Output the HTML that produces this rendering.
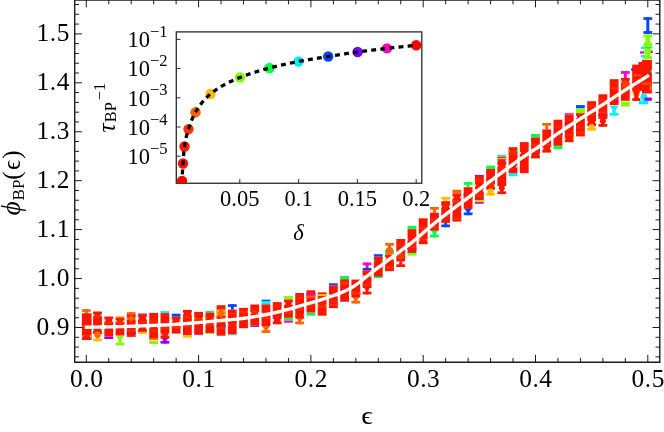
<!DOCTYPE html>
<html><head><meta charset="utf-8"><title>chart</title>
<style>html,body{margin:0;padding:0;background:#fff;}body{width:664px;height:432px;overflow:hidden;font-family:"Liberation Serif",serif;}</style></head>
<body>
<svg width="664" height="432" viewBox="0 0 664 432" style="display:block;will-change:transform">
<rect x="0" y="0" width="664" height="432" fill="#ffffff"/>
<g><rect x="81.90" y="309.20" width="8.80" height="2.7" fill="#ff6400"/><rect x="84.80" y="309.20" width="3.00" height="6.80" fill="#ff6400"/><rect x="93.13" y="338.60" width="8.80" height="2.7" fill="#ffbe00"/><rect x="96.03" y="334.00" width="3.00" height="7.30" fill="#ffbe00"/><rect x="93.13" y="314.50" width="8.80" height="1.50" fill="#00f0ff"/><rect x="104.36" y="336.60" width="8.80" height="2.40" fill="#8c00ff"/><rect x="115.59" y="316.00" width="8.80" height="1.80" fill="#ffbe00"/><rect x="115.59" y="342.70" width="8.80" height="2.7" fill="#82ff00"/><rect x="118.49" y="335.50" width="3.00" height="9.90" fill="#82ff00"/><path d="M115.79 335.50H124.19L119.99 341.50Z" fill="#82ff00"/><rect x="126.82" y="312.20" width="8.80" height="2.7" fill="#ff6400"/><rect x="129.72" y="312.20" width="3.00" height="5.80" fill="#ff6400"/><rect x="138.05" y="313.50" width="8.80" height="0.90" fill="#8c00ff"/><rect x="138.05" y="331.90" width="8.80" height="2.00" fill="#ffbe00"/><rect x="149.28" y="336.50" width="8.80" height="3.50" fill="#ff6400"/><rect x="149.28" y="340.70" width="8.80" height="3.30" fill="#82ff00"/><rect x="160.51" y="311.10" width="8.80" height="2.00" fill="#00f0ff"/><rect x="160.51" y="340.90" width="8.80" height="2.7" fill="#8c00ff"/><rect x="163.41" y="338.60" width="3.00" height="5.00" fill="#8c00ff"/><path d="M160.71 337.50H169.11L164.91 342.00Z" fill="#8c00ff"/><rect x="171.74" y="313.70" width="8.80" height="3.00" fill="#0046ff"/><rect x="182.97" y="334.60" width="8.80" height="3.10" fill="#ffbe00"/><rect x="194.20" y="334.30" width="8.80" height="0.80" fill="#8c00ff"/><rect x="205.43" y="311.00" width="8.80" height="1.60" fill="#00ff46"/><rect x="205.43" y="332.60" width="8.80" height="1.40" fill="#82ff00"/><rect x="227.89" y="304.20" width="8.80" height="2.7" fill="#0046ff"/><rect x="230.79" y="304.20" width="3.00" height="5.40" fill="#0046ff"/><rect x="227.89" y="334.30" width="8.80" height="1.00" fill="#00f0ff"/><rect x="250.35" y="325.80" width="8.80" height="1.10" fill="#8c00ff"/><rect x="261.58" y="299.70" width="8.80" height="1.50" fill="#0046ff"/><rect x="261.58" y="301.10" width="8.80" height="3.30" fill="#00f0ff"/><rect x="261.58" y="330.20" width="8.80" height="2.7" fill="#ff6400"/><rect x="264.48" y="326.00" width="3.00" height="6.90" fill="#ff6400"/><path d="M261.78 326.00H270.18L265.98 331.00Z" fill="#ff6400"/><rect x="284.04" y="296.00" width="8.80" height="3.50" fill="#82ff00"/><rect x="284.04" y="317.80" width="8.80" height="2.80" fill="#00ff46"/><rect x="284.04" y="320.60" width="8.80" height="2.10" fill="#ff00c8"/><rect x="295.27" y="321.60" width="8.80" height="2.7" fill="#ff6400"/><rect x="298.17" y="318.60" width="3.00" height="5.70" fill="#ff6400"/><path d="M295.47 317.50H303.87L299.67 322.50Z" fill="#ff6400"/><rect x="306.50" y="312.50" width="8.80" height="3.20" fill="#00ff46"/><rect x="328.96" y="283.30" width="8.80" height="2.10" fill="#0046ff"/><rect x="340.19" y="276.00" width="8.80" height="3.20" fill="#00ff46"/><rect x="340.19" y="300.30" width="8.80" height="1.20" fill="#8c00ff"/><rect x="351.42" y="300.80" width="8.80" height="2.7" fill="#ff6400"/><rect x="354.32" y="297.30" width="3.00" height="6.20" fill="#ff6400"/><path d="M351.62 296.50H360.02L355.82 301.50Z" fill="#ff6400"/><rect x="362.65" y="262.50" width="8.80" height="2.7" fill="#ff00c8"/><rect x="365.55" y="262.50" width="3.00" height="6.00" fill="#ff00c8"/><rect x="362.65" y="268.00" width="8.80" height="2.20" fill="#0046ff"/><rect x="373.88" y="254.20" width="8.80" height="2.50" fill="#0046ff"/><rect x="373.88" y="275.80" width="8.80" height="2.20" fill="#00ff46"/><rect x="385.11" y="250.00" width="8.80" height="4.60" fill="#00ff46"/><rect x="385.11" y="243.00" width="8.80" height="2.7" fill="#ff6400"/><rect x="388.01" y="243.00" width="3.00" height="8.00" fill="#ff6400"/><rect x="407.57" y="225.80" width="8.80" height="3.40" fill="#00ff46"/><rect x="407.57" y="252.50" width="8.80" height="3.10" fill="#82ff00"/><rect x="407.57" y="252.00" width="8.80" height="0.80" fill="#0046ff"/><rect x="418.80" y="218.10" width="8.80" height="1.70" fill="#ff6400"/><rect x="430.03" y="207.00" width="8.80" height="2.7" fill="#ff6400"/><rect x="432.93" y="207.00" width="3.00" height="5.70" fill="#ff6400"/><rect x="430.03" y="234.70" width="8.80" height="2.7" fill="#00ff46"/><rect x="432.93" y="230.50" width="3.00" height="6.90" fill="#00ff46"/><path d="M430.23 230.00H438.63L434.43 235.00Z" fill="#00ff46"/><rect x="441.26" y="196.90" width="8.80" height="2.7" fill="#ffbe00"/><rect x="444.16" y="196.90" width="3.00" height="4.30" fill="#ffbe00"/><rect x="441.26" y="224.50" width="8.80" height="2.7" fill="#0046ff"/><rect x="444.16" y="222.90" width="3.00" height="4.30" fill="#0046ff"/><rect x="452.49" y="189.70" width="8.80" height="3.90" fill="#ff6400"/><rect x="463.72" y="182.10" width="8.80" height="2.7" fill="#00ff46"/><rect x="466.62" y="182.10" width="3.00" height="5.10" fill="#00ff46"/><rect x="463.72" y="212.50" width="8.80" height="2.7" fill="#0046ff"/><rect x="466.62" y="208.80" width="3.00" height="6.40" fill="#0046ff"/><path d="M463.92 208.50H472.32L468.12 213.00Z" fill="#0046ff"/><rect x="474.95" y="174.90" width="8.80" height="1.40" fill="#8c00ff"/><rect x="474.95" y="200.00" width="8.80" height="2.00" fill="#82ff00"/><rect x="474.95" y="202.00" width="8.80" height="1.80" fill="#ff00c8"/><rect x="486.18" y="165.60" width="8.80" height="3.30" fill="#00ff46"/><rect x="486.18" y="192.90" width="8.80" height="2.7" fill="#ffbe00"/><rect x="489.08" y="189.70" width="3.00" height="5.90" fill="#ffbe00"/><rect x="497.41" y="154.90" width="8.80" height="1.70" fill="#00f0ff"/><rect x="508.64" y="173.20" width="8.80" height="3.10" fill="#00f0ff"/><rect x="531.10" y="134.00" width="8.80" height="3.50" fill="#00ff46"/><rect x="542.33" y="123.00" width="8.80" height="2.7" fill="#ff6400"/><rect x="545.23" y="123.00" width="3.00" height="6.40" fill="#ff6400"/><rect x="553.56" y="145.20" width="8.80" height="3.90" fill="#00ff46"/><rect x="564.79" y="113.20" width="8.80" height="1.40" fill="#ff00c8"/><rect x="576.02" y="105.10" width="8.80" height="3.10" fill="#0046ff"/><rect x="576.02" y="108.10" width="8.80" height="5.10" fill="#82ff00"/><rect x="587.25" y="127.90" width="8.80" height="2.7" fill="#ffbe00"/><rect x="590.15" y="125.50" width="3.00" height="5.10" fill="#ffbe00"/><rect x="609.71" y="112.90" width="8.80" height="2.7" fill="#00f0ff"/><rect x="612.61" y="105.40" width="3.00" height="10.20" fill="#00f0ff"/><path d="M609.91 106.00H618.31L614.11 112.00Z" fill="#00f0ff"/><rect x="620.94" y="71.10" width="8.80" height="2.7" fill="#ff00c8"/><rect x="623.84" y="71.10" width="3.00" height="6.90" fill="#ff00c8"/><rect x="620.94" y="101.60" width="8.80" height="5.00" fill="#82ff00"/></g>
<g><rect x="82.4" y="313.50" width="9.2" height="26.50" fill="#ff1400"/><rect x="81.90" y="313.50" width="8.80" height="26.50" fill="#ff1400"/><rect x="81.90" y="324.77" width="8.80" height="2.34" fill="#ff3c00" opacity="0.55"/><rect x="81.90" y="334.45" width="8.80" height="2.20" fill="#ff3c00" opacity="0.55"/><rect x="93.13" y="311.50" width="8.80" height="22.50" fill="#ff1400"/><rect x="93.13" y="315.00" width="8.80" height="2.71" fill="#ff3c00" opacity="0.55"/><rect x="93.13" y="324.94" width="8.80" height="1.56" fill="#ff3c00" opacity="0.55"/><rect x="104.36" y="316.50" width="8.80" height="20.10" fill="#ff1400"/><rect x="104.36" y="326.83" width="8.80" height="1.79" fill="#ff3c00" opacity="0.55"/><rect x="104.36" y="321.79" width="8.80" height="1.94" fill="#ff3c00" opacity="0.55"/><rect x="115.59" y="317.60" width="8.80" height="17.90" fill="#ff1400"/><rect x="115.59" y="322.33" width="8.80" height="1.93" fill="#ff3c00" opacity="0.55"/><rect x="115.59" y="320.44" width="8.80" height="2.65" fill="#ff3c00" opacity="0.55"/><rect x="126.82" y="314.60" width="8.80" height="22.30" fill="#ff1400"/><rect x="126.82" y="329.29" width="8.80" height="1.90" fill="#ff3c00" opacity="0.55"/><rect x="126.82" y="318.02" width="8.80" height="2.00" fill="#ff3c00" opacity="0.55"/><rect x="138.05" y="314.20" width="8.80" height="17.70" fill="#ff1400"/><rect x="138.05" y="323.73" width="8.80" height="1.67" fill="#ff3c00" opacity="0.55"/><rect x="138.05" y="321.12" width="8.80" height="1.82" fill="#ff3c00" opacity="0.55"/><rect x="149.28" y="312.90" width="8.80" height="25.10" fill="#ff1400"/><rect x="149.28" y="329.66" width="8.80" height="1.99" fill="#ff3c00" opacity="0.55"/><rect x="149.28" y="320.56" width="8.80" height="1.61" fill="#ff3c00" opacity="0.55"/><rect x="160.51" y="313.10" width="8.80" height="25.50" fill="#ff1400"/><rect x="160.51" y="333.80" width="8.80" height="2.23" fill="#ff3c00" opacity="0.55"/><rect x="160.51" y="326.30" width="8.80" height="2.80" fill="#ff3c00" opacity="0.55"/><rect x="171.74" y="316.70" width="8.80" height="16.90" fill="#ff1400"/><rect x="171.74" y="325.56" width="8.80" height="2.33" fill="#ff3c00" opacity="0.55"/><rect x="171.74" y="326.19" width="8.80" height="2.08" fill="#ff3c00" opacity="0.55"/><rect x="182.97" y="309.90" width="8.80" height="25.10" fill="#ff1400"/><rect x="182.97" y="325.66" width="8.80" height="1.60" fill="#ff3c00" opacity="0.55"/><rect x="182.97" y="316.26" width="8.80" height="2.34" fill="#ff3c00" opacity="0.55"/><rect x="194.20" y="311.90" width="8.80" height="22.40" fill="#ff1400"/><rect x="194.20" y="317.98" width="8.80" height="1.57" fill="#ff3c00" opacity="0.55"/><rect x="194.20" y="318.52" width="8.80" height="2.30" fill="#ff3c00" opacity="0.55"/><rect x="205.43" y="312.60" width="8.80" height="20.40" fill="#ff1400"/><rect x="205.43" y="323.09" width="8.80" height="2.89" fill="#ff3c00" opacity="0.55"/><rect x="205.43" y="321.44" width="8.80" height="2.04" fill="#ff3c00" opacity="0.55"/><rect x="216.66" y="305.20" width="8.80" height="30.50" fill="#ff1400"/><rect x="216.66" y="326.64" width="8.80" height="2.87" fill="#ff3c00" opacity="0.55"/><rect x="216.66" y="315.82" width="8.80" height="2.53" fill="#ff3c00" opacity="0.55"/><rect x="227.89" y="309.60" width="8.80" height="24.70" fill="#ff1400"/><rect x="227.89" y="318.69" width="8.80" height="1.52" fill="#ff3c00" opacity="0.55"/><rect x="227.89" y="312.95" width="8.80" height="1.64" fill="#ff3c00" opacity="0.55"/><rect x="239.12" y="307.90" width="8.80" height="20.30" fill="#ff1400"/><rect x="239.12" y="316.20" width="8.80" height="2.76" fill="#ff3c00" opacity="0.55"/><rect x="239.12" y="311.10" width="8.80" height="2.63" fill="#ff3c00" opacity="0.55"/><rect x="250.35" y="304.50" width="8.80" height="21.30" fill="#ff1400"/><rect x="250.35" y="310.41" width="8.80" height="1.52" fill="#ff3c00" opacity="0.55"/><rect x="250.35" y="311.11" width="8.80" height="2.52" fill="#ff3c00" opacity="0.55"/><rect x="261.58" y="304.40" width="8.80" height="21.60" fill="#ff1400"/><rect x="261.58" y="312.71" width="8.80" height="1.88" fill="#ff3c00" opacity="0.55"/><rect x="261.58" y="316.29" width="8.80" height="2.71" fill="#ff3c00" opacity="0.55"/><rect x="272.81" y="302.10" width="8.80" height="22.20" fill="#ff1400"/><rect x="272.81" y="309.78" width="8.80" height="2.84" fill="#ff3c00" opacity="0.55"/><rect x="272.81" y="304.76" width="8.80" height="1.60" fill="#ff3c00" opacity="0.55"/><rect x="284.04" y="299.50" width="8.80" height="18.30" fill="#ff1400"/><rect x="284.04" y="312.24" width="8.80" height="1.56" fill="#ff3c00" opacity="0.55"/><rect x="284.04" y="310.22" width="8.80" height="2.36" fill="#ff3c00" opacity="0.55"/><rect x="295.27" y="293.00" width="8.80" height="25.60" fill="#ff1400"/><rect x="295.27" y="297.14" width="8.80" height="2.30" fill="#ff3c00" opacity="0.55"/><rect x="295.27" y="307.54" width="8.80" height="2.05" fill="#ff3c00" opacity="0.55"/><rect x="306.50" y="290.30" width="8.80" height="22.20" fill="#ff1400"/><rect x="306.50" y="303.87" width="8.80" height="1.77" fill="#ff3c00" opacity="0.55"/><rect x="306.50" y="296.71" width="8.80" height="2.02" fill="#ff3c00" opacity="0.55"/><rect x="317.73" y="292.40" width="8.80" height="23.30" fill="#ff1400"/><rect x="317.73" y="296.65" width="8.80" height="2.18" fill="#ff3c00" opacity="0.55"/><rect x="317.73" y="305.22" width="8.80" height="2.86" fill="#ff3c00" opacity="0.55"/><rect x="328.96" y="285.40" width="8.80" height="22.70" fill="#ff1400"/><rect x="328.96" y="303.72" width="8.80" height="2.31" fill="#ff3c00" opacity="0.55"/><rect x="328.96" y="300.61" width="8.80" height="1.98" fill="#ff3c00" opacity="0.55"/><rect x="340.19" y="279.20" width="8.80" height="22.30" fill="#ff1400"/><rect x="340.19" y="281.66" width="8.80" height="2.71" fill="#ff3c00" opacity="0.55"/><rect x="340.19" y="282.24" width="8.80" height="2.70" fill="#ff3c00" opacity="0.55"/><rect x="351.42" y="279.60" width="8.80" height="17.70" fill="#ff1400"/><rect x="351.42" y="291.43" width="8.80" height="2.53" fill="#ff3c00" opacity="0.55"/><rect x="351.42" y="292.67" width="8.80" height="2.24" fill="#ff3c00" opacity="0.55"/><rect x="362.65" y="270.20" width="8.80" height="17.80" fill="#ff1400"/><rect x="362.65" y="275.23" width="8.80" height="2.51" fill="#ff3c00" opacity="0.55"/><rect x="362.65" y="283.47" width="8.80" height="2.81" fill="#ff3c00" opacity="0.55"/><rect x="373.88" y="256.70" width="8.80" height="19.80" fill="#ff1400"/><rect x="373.88" y="266.10" width="8.80" height="2.25" fill="#ff3c00" opacity="0.55"/><rect x="373.88" y="267.05" width="8.80" height="1.54" fill="#ff3c00" opacity="0.55"/><rect x="385.11" y="254.60" width="8.80" height="16.60" fill="#ff1400"/><rect x="385.11" y="266.47" width="8.80" height="2.19" fill="#ff3c00" opacity="0.55"/><rect x="385.11" y="266.36" width="8.80" height="2.70" fill="#ff3c00" opacity="0.55"/><rect x="396.34" y="239.00" width="8.80" height="22.50" fill="#ff1400"/><rect x="396.34" y="253.86" width="8.80" height="1.53" fill="#ff3c00" opacity="0.55"/><rect x="396.34" y="244.20" width="8.80" height="1.84" fill="#ff3c00" opacity="0.55"/><rect x="407.57" y="229.20" width="8.80" height="23.30" fill="#ff1400"/><rect x="407.57" y="241.85" width="8.80" height="2.31" fill="#ff3c00" opacity="0.55"/><rect x="407.57" y="246.14" width="8.80" height="2.30" fill="#ff3c00" opacity="0.55"/><rect x="418.80" y="218.80" width="8.80" height="25.40" fill="#ff1400"/><rect x="418.80" y="238.31" width="8.80" height="1.97" fill="#ff3c00" opacity="0.55"/><rect x="418.80" y="226.91" width="8.80" height="2.88" fill="#ff3c00" opacity="0.55"/><rect x="430.03" y="212.70" width="8.80" height="17.80" fill="#ff1400"/><rect x="430.03" y="219.28" width="8.80" height="2.15" fill="#ff3c00" opacity="0.55"/><rect x="430.03" y="225.81" width="8.80" height="2.31" fill="#ff3c00" opacity="0.55"/><rect x="441.26" y="201.20" width="8.80" height="21.70" fill="#ff1400"/><rect x="441.26" y="205.01" width="8.80" height="2.26" fill="#ff3c00" opacity="0.55"/><rect x="441.26" y="215.10" width="8.80" height="2.25" fill="#ff3c00" opacity="0.55"/><rect x="452.49" y="193.60" width="8.80" height="28.00" fill="#ff1400"/><rect x="452.49" y="200.09" width="8.80" height="2.76" fill="#ff3c00" opacity="0.55"/><rect x="452.49" y="217.39" width="8.80" height="2.89" fill="#ff3c00" opacity="0.55"/><rect x="463.72" y="187.20" width="8.80" height="21.60" fill="#ff1400"/><rect x="463.72" y="196.48" width="8.80" height="2.27" fill="#ff3c00" opacity="0.55"/><rect x="463.72" y="195.91" width="8.80" height="2.40" fill="#ff3c00" opacity="0.55"/><rect x="474.95" y="175.70" width="8.80" height="24.30" fill="#ff1400"/><rect x="474.95" y="194.57" width="8.80" height="2.41" fill="#ff3c00" opacity="0.55"/><rect x="474.95" y="179.43" width="8.80" height="2.69" fill="#ff3c00" opacity="0.55"/><rect x="486.18" y="168.90" width="8.80" height="20.80" fill="#ff1400"/><rect x="486.18" y="182.96" width="8.80" height="2.11" fill="#ff3c00" opacity="0.55"/><rect x="486.18" y="184.17" width="8.80" height="2.82" fill="#ff3c00" opacity="0.55"/><rect x="497.41" y="156.60" width="8.80" height="29.40" fill="#ff1400"/><rect x="497.41" y="166.50" width="8.80" height="2.49" fill="#ff3c00" opacity="0.55"/><rect x="497.41" y="171.93" width="8.80" height="2.30" fill="#ff3c00" opacity="0.55"/><rect x="508.64" y="147.20" width="8.80" height="26.00" fill="#ff1400"/><rect x="508.64" y="153.11" width="8.80" height="2.06" fill="#ff3c00" opacity="0.55"/><rect x="508.64" y="151.17" width="8.80" height="1.88" fill="#ff3c00" opacity="0.55"/><rect x="519.87" y="142.10" width="8.80" height="31.10" fill="#ff1400"/><rect x="519.87" y="155.94" width="8.80" height="1.75" fill="#ff3c00" opacity="0.55"/><rect x="519.87" y="156.54" width="8.80" height="2.42" fill="#ff3c00" opacity="0.55"/><rect x="531.10" y="137.50" width="8.80" height="20.90" fill="#ff1400"/><rect x="531.10" y="143.76" width="8.80" height="2.48" fill="#ff3c00" opacity="0.55"/><rect x="531.10" y="147.85" width="8.80" height="1.93" fill="#ff3c00" opacity="0.55"/><rect x="542.33" y="129.40" width="8.80" height="23.20" fill="#ff1400"/><rect x="542.33" y="143.77" width="8.80" height="1.88" fill="#ff3c00" opacity="0.55"/><rect x="542.33" y="144.39" width="8.80" height="1.57" fill="#ff3c00" opacity="0.55"/><rect x="553.56" y="119.70" width="8.80" height="25.90" fill="#ff1400"/><rect x="553.56" y="134.12" width="8.80" height="2.18" fill="#ff3c00" opacity="0.55"/><rect x="553.56" y="125.75" width="8.80" height="1.58" fill="#ff3c00" opacity="0.55"/><rect x="564.79" y="114.60" width="8.80" height="27.60" fill="#ff1400"/><rect x="564.79" y="124.46" width="8.80" height="2.62" fill="#ff3c00" opacity="0.55"/><rect x="564.79" y="134.21" width="8.80" height="1.71" fill="#ff3c00" opacity="0.55"/><rect x="576.02" y="113.20" width="8.80" height="23.20" fill="#ff1400"/><rect x="576.02" y="131.57" width="8.80" height="2.25" fill="#ff3c00" opacity="0.55"/><rect x="576.02" y="126.43" width="8.80" height="1.79" fill="#ff3c00" opacity="0.55"/><rect x="587.25" y="101.20" width="8.80" height="24.80" fill="#ff1400"/><rect x="587.25" y="113.38" width="8.80" height="1.61" fill="#ff3c00" opacity="0.55"/><rect x="587.25" y="104.83" width="8.80" height="2.51" fill="#ff3c00" opacity="0.55"/><rect x="598.48" y="94.30" width="8.80" height="24.70" fill="#ff1400"/><rect x="598.48" y="98.79" width="8.80" height="2.80" fill="#ff3c00" opacity="0.55"/><rect x="598.48" y="111.30" width="8.80" height="2.17" fill="#ff3c00" opacity="0.55"/><rect x="609.71" y="79.20" width="8.80" height="25.90" fill="#ff1400"/><rect x="609.71" y="86.99" width="8.80" height="2.64" fill="#ff3c00" opacity="0.55"/><rect x="609.71" y="97.64" width="8.80" height="1.78" fill="#ff3c00" opacity="0.55"/><rect x="620.94" y="77.90" width="8.80" height="22.90" fill="#ff1400"/><rect x="620.94" y="88.26" width="8.80" height="2.65" fill="#ff3c00" opacity="0.55"/><rect x="620.94" y="85.44" width="8.80" height="2.82" fill="#ff3c00" opacity="0.55"/></g>
<g><rect x="81.80" y="335.48" width="0.76" height="1.82" fill="#ffffff"/><rect x="90.04" y="335.48" width="0.76" height="1.82" fill="#ffffff"/><rect x="93.03" y="328.54" width="1.11" height="2.76" fill="#00ff46"/><rect x="100.92" y="328.54" width="1.11" height="2.76" fill="#00ff46"/><rect x="93.03" y="314.20" width="1.21" height="1.67" fill="#ffffff"/><rect x="100.82" y="314.20" width="1.21" height="1.67" fill="#ffffff"/><rect x="104.26" y="319.20" width="1.16" height="2.39" fill="#ffffff"/><rect x="112.10" y="319.20" width="1.16" height="2.39" fill="#ffffff"/><rect x="115.49" y="320.30" width="1.25" height="1.73" fill="#ffffff"/><rect x="123.24" y="320.30" width="1.25" height="1.73" fill="#ffffff"/><rect x="115.49" y="324.84" width="0.97" height="1.85" fill="#ffbe00"/><rect x="123.52" y="324.84" width="0.97" height="1.85" fill="#ffbe00"/><rect x="126.72" y="317.30" width="0.71" height="2.51" fill="#ffffff"/><rect x="135.01" y="317.30" width="0.71" height="2.51" fill="#ffffff"/><rect x="126.72" y="332.02" width="1.34" height="2.18" fill="#0046ff"/><rect x="134.38" y="332.02" width="1.34" height="2.18" fill="#0046ff"/><rect x="137.95" y="316.90" width="0.84" height="2.64" fill="#ffffff"/><rect x="146.11" y="316.90" width="0.84" height="2.64" fill="#ffffff"/><rect x="137.95" y="326.57" width="0.84" height="2.63" fill="#ffffff"/><rect x="146.11" y="326.57" width="0.84" height="2.63" fill="#ffffff"/><rect x="149.18" y="325.88" width="0.94" height="1.85" fill="#ffffff"/><rect x="157.24" y="325.88" width="0.94" height="1.85" fill="#ffffff"/><rect x="160.41" y="333.55" width="1.17" height="2.35" fill="#ffffff"/><rect x="168.24" y="333.55" width="1.17" height="2.35" fill="#ffffff"/><rect x="171.64" y="319.40" width="1.03" height="2.32" fill="#ffffff"/><rect x="179.61" y="319.40" width="1.03" height="2.32" fill="#ffffff"/><rect x="171.64" y="323.18" width="0.89" height="2.49" fill="#ffffff"/><rect x="179.75" y="323.18" width="0.89" height="2.49" fill="#ffffff"/><rect x="182.87" y="312.60" width="0.74" height="1.94" fill="#ffffff"/><rect x="191.13" y="312.60" width="0.74" height="1.94" fill="#ffffff"/><rect x="194.10" y="317.48" width="1.13" height="1.71" fill="#82ff00"/><rect x="201.97" y="317.48" width="1.13" height="1.71" fill="#82ff00"/><rect x="205.33" y="322.58" width="0.74" height="2.76" fill="#ffffff"/><rect x="213.59" y="322.58" width="0.74" height="2.76" fill="#ffffff"/><rect x="205.33" y="317.28" width="1.18" height="1.76" fill="#82ff00"/><rect x="213.15" y="317.28" width="1.18" height="1.76" fill="#82ff00"/><rect x="216.56" y="324.62" width="1.07" height="2.65" fill="#0046ff"/><rect x="224.49" y="324.62" width="1.07" height="2.65" fill="#0046ff"/><rect x="227.79" y="323.58" width="1.31" height="2.79" fill="#ff6400"/><rect x="235.48" y="323.58" width="1.31" height="2.79" fill="#ff6400"/><rect x="239.02" y="310.60" width="1.02" height="1.97" fill="#ff6400"/><rect x="247.00" y="310.60" width="1.02" height="1.97" fill="#ff6400"/><rect x="250.25" y="312.03" width="1.02" height="2.22" fill="#ffffff"/><rect x="258.23" y="312.03" width="1.02" height="2.22" fill="#ffffff"/><rect x="261.48" y="312.47" width="0.84" height="2.66" fill="#ffffff"/><rect x="269.64" y="312.47" width="0.84" height="2.66" fill="#ffffff"/><rect x="272.71" y="319.01" width="1.24" height="2.59" fill="#ffffff"/><rect x="280.47" y="319.01" width="1.24" height="2.59" fill="#ffffff"/><rect x="272.71" y="314.12" width="0.91" height="2.22" fill="#ff00c8"/><rect x="280.80" y="314.12" width="0.91" height="2.22" fill="#ff00c8"/><rect x="283.94" y="308.18" width="1.00" height="2.38" fill="#ffffff"/><rect x="291.94" y="308.18" width="1.00" height="2.38" fill="#ffffff"/><rect x="283.94" y="302.20" width="1.34" height="2.60" fill="#ffffff"/><rect x="291.60" y="302.20" width="1.34" height="2.60" fill="#ffffff"/><rect x="295.17" y="313.48" width="1.16" height="2.42" fill="#ff6400"/><rect x="303.01" y="313.48" width="1.16" height="2.42" fill="#ff6400"/><rect x="306.40" y="293.00" width="0.97" height="2.07" fill="#0046ff"/><rect x="314.43" y="293.00" width="0.97" height="2.07" fill="#0046ff"/><rect x="317.63" y="304.43" width="1.00" height="2.26" fill="#ffbe00"/><rect x="325.63" y="304.43" width="1.00" height="2.26" fill="#ffbe00"/><rect x="317.63" y="295.10" width="0.84" height="1.72" fill="#00ff46"/><rect x="325.79" y="295.10" width="0.84" height="1.72" fill="#00ff46"/><rect x="328.86" y="294.56" width="1.20" height="2.02" fill="#ffffff"/><rect x="336.66" y="294.56" width="1.20" height="2.02" fill="#ffffff"/><rect x="340.09" y="293.55" width="0.80" height="2.24" fill="#ff6400"/><rect x="348.29" y="293.55" width="0.80" height="2.24" fill="#ff6400"/><rect x="351.32" y="292.09" width="1.04" height="2.51" fill="#ff6400"/><rect x="359.28" y="292.09" width="1.04" height="2.51" fill="#ff6400"/><rect x="362.55" y="275.16" width="1.07" height="1.97" fill="#ffffff"/><rect x="370.48" y="275.16" width="1.07" height="1.97" fill="#ffffff"/><rect x="373.78" y="259.40" width="1.02" height="2.22" fill="#00ff46"/><rect x="381.76" y="259.40" width="1.02" height="2.22" fill="#00ff46"/><rect x="385.01" y="259.31" width="1.29" height="1.92" fill="#ff6400"/><rect x="392.72" y="259.31" width="1.29" height="1.92" fill="#ff6400"/><rect x="385.01" y="257.30" width="1.30" height="2.23" fill="#ffffff"/><rect x="392.71" y="257.30" width="1.30" height="2.23" fill="#ffffff"/><rect x="396.24" y="241.70" width="1.02" height="1.99" fill="#ff6400"/><rect x="404.22" y="241.70" width="1.02" height="1.99" fill="#ff6400"/><rect x="396.24" y="251.07" width="0.72" height="2.35" fill="#ff6400"/><rect x="404.52" y="251.07" width="0.72" height="2.35" fill="#ff6400"/><rect x="407.47" y="247.56" width="0.85" height="2.24" fill="#8c00ff"/><rect x="415.62" y="247.56" width="0.85" height="2.24" fill="#8c00ff"/><rect x="418.70" y="238.97" width="0.79" height="2.53" fill="#ffffff"/><rect x="426.91" y="238.97" width="0.79" height="2.53" fill="#ffffff"/><rect x="429.93" y="215.40" width="0.83" height="1.84" fill="#8c00ff"/><rect x="438.10" y="215.40" width="0.83" height="1.84" fill="#8c00ff"/><rect x="441.16" y="205.46" width="0.80" height="2.56" fill="#ffffff"/><rect x="449.36" y="205.46" width="0.80" height="2.56" fill="#ffffff"/><rect x="452.39" y="196.30" width="1.20" height="2.30" fill="#ffffff"/><rect x="460.19" y="196.30" width="1.20" height="2.30" fill="#ffffff"/><rect x="463.62" y="193.32" width="1.00" height="2.36" fill="#0046ff"/><rect x="471.62" y="193.32" width="1.00" height="2.36" fill="#0046ff"/><rect x="474.85" y="189.07" width="1.07" height="2.67" fill="#ffffff"/><rect x="482.78" y="189.07" width="1.07" height="2.67" fill="#ffffff"/><rect x="474.85" y="184.23" width="1.29" height="2.30" fill="#82ff00"/><rect x="482.56" y="184.23" width="1.29" height="2.30" fill="#82ff00"/><rect x="486.08" y="184.48" width="0.75" height="2.52" fill="#ffffff"/><rect x="494.33" y="184.48" width="0.75" height="2.52" fill="#ffffff"/><rect x="486.08" y="171.60" width="0.85" height="2.16" fill="#ff00c8"/><rect x="494.23" y="171.60" width="0.85" height="2.16" fill="#ff00c8"/><rect x="497.31" y="159.30" width="1.20" height="2.22" fill="#00f0ff"/><rect x="505.11" y="159.30" width="1.20" height="2.22" fill="#00f0ff"/><rect x="497.31" y="164.96" width="0.96" height="1.74" fill="#ffffff"/><rect x="505.35" y="164.96" width="0.96" height="1.74" fill="#ffffff"/><rect x="508.54" y="149.90" width="1.11" height="2.26" fill="#00ff46"/><rect x="516.43" y="149.90" width="1.11" height="2.26" fill="#00ff46"/><rect x="508.54" y="165.53" width="1.30" height="2.26" fill="#ffffff"/><rect x="516.24" y="165.53" width="1.30" height="2.26" fill="#ffffff"/><rect x="519.77" y="151.82" width="1.09" height="2.12" fill="#ffffff"/><rect x="527.68" y="151.82" width="1.09" height="2.12" fill="#ffffff"/><rect x="531.00" y="154.07" width="0.97" height="1.63" fill="#00f0ff"/><rect x="539.03" y="154.07" width="0.97" height="1.63" fill="#00f0ff"/><rect x="531.00" y="148.91" width="0.75" height="2.68" fill="#0046ff"/><rect x="539.25" y="148.91" width="0.75" height="2.68" fill="#0046ff"/><rect x="542.23" y="147.18" width="1.09" height="2.72" fill="#ffffff"/><rect x="550.14" y="147.18" width="1.09" height="2.72" fill="#ffffff"/><rect x="553.46" y="133.65" width="1.09" height="1.75" fill="#0046ff"/><rect x="561.37" y="133.65" width="1.09" height="1.75" fill="#0046ff"/><rect x="564.69" y="122.56" width="1.21" height="2.48" fill="#8c00ff"/><rect x="572.48" y="122.56" width="1.21" height="2.48" fill="#8c00ff"/><rect x="564.69" y="137.57" width="1.11" height="1.93" fill="#ffbe00"/><rect x="572.58" y="137.57" width="1.11" height="1.93" fill="#ffbe00"/><rect x="575.92" y="115.90" width="1.11" height="2.35" fill="#ffffff"/><rect x="583.81" y="115.90" width="1.11" height="2.35" fill="#ffffff"/><rect x="587.15" y="120.94" width="0.92" height="2.36" fill="#ffffff"/><rect x="595.23" y="120.94" width="0.92" height="2.36" fill="#ffffff"/><rect x="598.38" y="114.17" width="0.94" height="2.13" fill="#8c00ff"/><rect x="606.44" y="114.17" width="0.94" height="2.13" fill="#8c00ff"/><rect x="609.61" y="81.90" width="0.98" height="2.30" fill="#ff6400"/><rect x="617.63" y="81.90" width="0.98" height="2.30" fill="#ff6400"/><rect x="609.61" y="100.44" width="1.29" height="1.96" fill="#ff00c8"/><rect x="617.32" y="100.44" width="1.29" height="1.96" fill="#ff00c8"/><rect x="620.84" y="80.60" width="0.91" height="2.03" fill="#ffffff"/><rect x="628.93" y="80.60" width="0.91" height="2.03" fill="#ffffff"/></g>
<g><circle cx="97.53" cy="334.75" r="3.25" fill="#ff6400"/><path d="M131.22 315.00L135.02 318.50L131.22 322.00L127.42 318.50Z" fill="#ff6400"/><rect x="216.66" y="309.50" width="8.80" height="6.00" fill="#ffbe00"/><path d="M221.06 308.00L224.86 313.00L221.06 318.00L217.26 313.00Z" fill="#ff6400"/><rect x="306.50" y="293.50" width="8.80" height="2.10" fill="#ff00c8"/><rect x="306.50" y="295.60" width="8.80" height="1.90" fill="#ff6400"/><rect x="317.73" y="294.00" width="8.80" height="2.00" fill="#ffbe00"/><rect x="362.65" y="291.70" width="8.80" height="2.7" fill="#ff1400"/><rect x="365.55" y="288.00" width="3.00" height="6.40" fill="#ff1400"/><path d="M362.85 286.50H371.25L367.05 291.50Z" fill="#ff1400"/><circle cx="389.51" cy="250.75" r="3.75" fill="#ff6400"/><circle cx="400.74" cy="256.25" r="3.25" fill="#ff3c00"/><rect x="396.34" y="264.30" width="8.80" height="2.7" fill="#ff1400"/><rect x="399.24" y="261.50" width="3.00" height="5.50" fill="#ff1400"/><circle cx="490.58" cy="191.25" r="3.00" fill="#ffbe00"/><rect x="497.41" y="157.80" width="8.80" height="1.40" fill="#ffbe00"/><rect x="497.41" y="191.40" width="8.80" height="2.7" fill="#ff1400"/><rect x="500.31" y="186.00" width="3.00" height="8.10" fill="#ff1400"/><circle cx="501.81" cy="188.00" r="3.00" fill="#ff1400"/><circle cx="591.65" cy="127.00" r="3.00" fill="#ffbe00"/><rect x="598.48" y="124.00" width="8.80" height="2.7" fill="#ff1400"/><rect x="601.38" y="119.00" width="3.00" height="7.70" fill="#ff1400"/><circle cx="602.88" cy="121.00" r="3.00" fill="#ff1400"/><circle cx="625.34" cy="84.00" r="3.50" fill="#ff3c00"/></g>
<g><rect x="643.40" y="17.20" width="8.80" height="2.70" fill="#0046ff"/><rect x="646.30" y="17.20" width="3.00" height="16.60" fill="#0046ff"/><rect x="643.40" y="31.10" width="8.80" height="2.70" fill="#0046ff"/><rect x="645.60" y="34.50" width="4.40" height="24.30" fill="#82ff00"/><rect x="643.40" y="34.50" width="8.80" height="2.70" fill="#82ff00"/><path d="M643.60 44.30H652.00L647.80 36.80Z" fill="#82ff00"/><rect x="643.40" y="43.60" width="8.80" height="2.80" fill="#82ff00"/><path d="M647.80 46.00L651.60 51.30L647.80 56.60L644.00 51.30Z" fill="#82ff00"/><rect x="644.40" y="48.50" width="6.80" height="5.50" fill="#82ff00"/><rect x="643.40" y="55.80" width="8.80" height="3.20" fill="#82ff00"/><rect x="643.40" y="47.00" width="8.80" height="1.30" fill="#00ff46"/><rect x="640.90" y="46.60" width="3.70" height="2.40" fill="#00f0ff"/><rect x="640.00" y="51.30" width="4.00" height="2.30" fill="#ff00c8"/><rect x="640.90" y="54.80" width="4.10" height="2.60" fill="#00f0ff"/><rect x="651.00" y="50.50" width="1.60" height="2.50" fill="#8c00ff"/><rect x="632.20" y="64.60" width="10.10" height="26.40" fill="#ff1400"/><rect x="632.60" y="90.50" width="7.40" height="5.00" fill="#ffbe00"/><rect x="634.20" y="90.50" width="4.40" height="10.30" fill="#ff1400"/><rect x="632.20" y="98.20" width="8.20" height="2.70" fill="#ff1400"/><path d="M632.20 90.50H640.60L636.40 96.50Z" fill="#ff1400"/><rect x="642.00" y="59.80" width="9.90" height="33.70" fill="#ff1400"/><rect x="638.50" y="62.00" width="4.00" height="4.00" fill="#ff1400"/><rect x="631.20" y="68.20" width="2.20" height="2.60" fill="#8c00ff"/><rect x="632.20" y="74.00" width="10.10" height="2.50" fill="#ff3c00"/><rect x="642.00" y="82.00" width="9.90" height="3.00" fill="#ff3c00"/><rect x="632.20" y="84.50" width="1.40" height="3.00" fill="#ffbe00"/><rect x="650.60" y="70.00" width="1.40" height="2.60" fill="#00f0ff"/><circle cx="643.9" cy="96.9" r="3.4" fill="#00f0ff"/><rect x="642.40" y="96.00" width="3.00" height="7.50" fill="#00f0ff"/><rect x="638.60" y="100.90" width="9.60" height="3.40" fill="#00f0ff"/><rect x="644.60" y="97.50" width="7.20" height="3.30" fill="#8c00ff"/><rect x="649.60" y="85.00" width="2.40" height="5.50" fill="#ff6400"/></g>
<path d="M84.80 327.20L87.38 327.20L89.95 327.19L92.53 327.17L95.10 327.14L97.68 327.10L100.25 327.06L102.83 327.01L105.41 326.95L107.98 326.89L110.56 326.83L113.13 326.77L115.71 326.70L118.29 326.64L120.86 326.58L123.44 326.51L126.01 326.44L128.59 326.36L131.16 326.27L133.74 326.18L136.32 326.09L138.89 325.99L141.47 325.89L144.04 325.79L146.62 325.68L149.19 325.58L151.77 325.48L154.35 325.38L156.92 325.28L159.50 325.18L162.07 325.07L164.65 324.96L167.23 324.84L169.80 324.70L172.38 324.55L174.95 324.39L177.53 324.22L180.10 324.04L182.68 323.85L185.26 323.66L187.83 323.46L190.41 323.25L192.98 323.03L195.56 322.80L198.14 322.57L200.71 322.33L203.29 322.09L205.86 321.85L208.44 321.61L211.01 321.36L213.59 321.13L216.17 320.90L218.74 320.68L221.32 320.46L223.89 320.25L226.47 320.04L229.04 319.83L231.62 319.60L234.20 319.36L236.77 319.10L239.35 318.82L241.92 318.52L244.50 318.19L247.08 317.83L249.65 317.45L252.23 317.04L254.80 316.62L257.38 316.17L259.95 315.71L262.53 315.23L265.11 314.73L267.68 314.22L270.26 313.70L272.83 313.17L275.41 312.59L277.98 311.98L280.56 311.34L283.14 310.67L285.71 309.98L288.29 309.27L290.86 308.54L293.44 307.81L296.02 307.06L298.59 306.32L301.17 305.58L303.74 304.85L306.32 304.11L308.89 303.38L311.47 302.63L314.05 301.88L316.62 301.11L319.20 300.33L321.77 299.52L324.35 298.69L326.93 297.83L329.50 296.94L332.08 296.02L334.65 295.09L337.23 294.13L339.80 293.13L342.38 292.08L344.96 290.96L347.53 289.76L350.11 288.47L352.68 287.03L355.26 285.36L357.83 283.51L360.41 281.53L362.99 279.46L365.56 277.36L368.14 275.27L370.71 273.25L373.29 271.31L375.87 269.38L378.44 267.45L381.02 265.52L383.59 263.59L386.17 261.65L388.74 259.72L391.32 257.79L393.90 255.86L396.47 253.94L399.05 252.04L401.62 250.14L404.20 248.23L406.77 246.30L409.35 244.34L411.93 242.34L414.50 240.28L417.08 238.15L419.65 235.96L422.23 233.74L424.81 231.50L427.38 229.26L429.96 227.04L432.53 224.87L435.11 222.76L437.68 220.70L440.26 218.66L442.84 216.65L445.41 214.66L447.99 212.68L450.56 210.72L453.14 208.80L455.72 206.89L458.29 204.99L460.87 203.10L463.44 201.21L466.02 199.30L468.59 197.39L471.17 195.46L473.75 193.53L476.32 191.60L478.90 189.67L481.47 187.73L484.05 185.80L486.62 183.88L489.20 181.95L491.78 180.04L494.35 178.13L496.93 176.20L499.50 174.27L502.08 172.34L504.66 170.42L507.23 168.49L509.81 166.58L512.38 164.69L514.96 162.81L517.53 160.95L520.11 159.12L522.69 157.32L525.26 155.57L527.84 153.86L530.41 152.19L532.99 150.54L535.56 148.89L538.14 147.23L540.72 145.53L543.29 143.79L545.87 141.99L548.44 140.17L551.02 138.33L553.60 136.50L556.17 134.68L558.75 132.90L561.32 131.16L563.90 129.43L566.47 127.73L569.05 126.03L571.63 124.36L574.20 122.69L576.78 121.04L579.35 119.40L581.93 117.78L584.51 116.16L587.08 114.54L589.66 112.93L592.23 111.31L594.81 109.69L597.38 108.06L599.96 106.43L602.54 104.78L605.11 103.11L607.69 101.43L610.26 99.75L612.84 98.05L615.41 96.36L617.99 94.68L620.57 93.01L623.14 91.35L625.72 89.72L628.29 88.10L630.87 86.51L633.45 84.92L636.02 83.33L638.60 81.74L641.17 80.14L643.75 78.52L646.32 76.88L648.90 75.20" fill="none" stroke="#ffffff" stroke-width="3.4" stroke-linecap="butt"/>
<g stroke="#1c1c1c" fill="none">
<path d="M74.7 0.1H659.8V362.2H74.7Z" stroke-width="1.4"/>
<path d="M86.30 362.2v-7.3M86.30 0.1v7.3M108.76 362.2v-4.3M108.76 0.1v4.3M131.22 362.2v-4.3M131.22 0.1v4.3M153.68 362.2v-4.3M153.68 0.1v4.3M176.14 362.2v-4.3M176.14 0.1v4.3M198.60 362.2v-7.3M198.60 0.1v7.3M221.06 362.2v-4.3M221.06 0.1v4.3M243.52 362.2v-4.3M243.52 0.1v4.3M265.98 362.2v-4.3M265.98 0.1v4.3M288.44 362.2v-4.3M288.44 0.1v4.3M310.90 362.2v-7.3M310.90 0.1v7.3M333.36 362.2v-4.3M333.36 0.1v4.3M355.82 362.2v-4.3M355.82 0.1v4.3M378.28 362.2v-4.3M378.28 0.1v4.3M400.74 362.2v-4.3M400.74 0.1v4.3M423.20 362.2v-7.3M423.20 0.1v7.3M445.66 362.2v-4.3M445.66 0.1v4.3M468.12 362.2v-4.3M468.12 0.1v4.3M490.58 362.2v-4.3M490.58 0.1v4.3M513.04 362.2v-4.3M513.04 0.1v4.3M535.50 362.2v-7.3M535.50 0.1v7.3M557.96 362.2v-4.3M557.96 0.1v4.3M580.42 362.2v-4.3M580.42 0.1v4.3M602.88 362.2v-4.3M602.88 0.1v4.3M625.34 362.2v-4.3M625.34 0.1v4.3M647.80 362.2v-7.3M647.80 0.1v7.3M74.7 356.86h4.3M659.8 356.86h-4.3M74.7 347.08h4.3M659.8 347.08h-4.3M74.7 337.29h4.3M659.8 337.29h-4.3M74.7 327.50h7.3M659.8 327.50h-7.3M74.7 317.71h4.3M659.8 317.71h-4.3M74.7 307.92h4.3M659.8 307.92h-4.3M74.7 298.14h4.3M659.8 298.14h-4.3M74.7 288.35h4.3M659.8 288.35h-4.3M74.7 278.56h7.3M659.8 278.56h-7.3M74.7 268.77h4.3M659.8 268.77h-4.3M74.7 258.98h4.3M659.8 258.98h-4.3M74.7 249.20h4.3M659.8 249.20h-4.3M74.7 239.41h4.3M659.8 239.41h-4.3M74.7 229.62h7.3M659.8 229.62h-7.3M74.7 219.83h4.3M659.8 219.83h-4.3M74.7 210.04h4.3M659.8 210.04h-4.3M74.7 200.26h4.3M659.8 200.26h-4.3M74.7 190.47h4.3M659.8 190.47h-4.3M74.7 180.68h7.3M659.8 180.68h-7.3M74.7 170.89h4.3M659.8 170.89h-4.3M74.7 161.10h4.3M659.8 161.10h-4.3M74.7 151.32h4.3M659.8 151.32h-4.3M74.7 141.53h4.3M659.8 141.53h-4.3M74.7 131.74h7.3M659.8 131.74h-7.3M74.7 121.95h4.3M659.8 121.95h-4.3M74.7 112.16h4.3M659.8 112.16h-4.3M74.7 102.38h4.3M659.8 102.38h-4.3M74.7 92.59h4.3M659.8 92.59h-4.3M74.7 82.80h7.3M659.8 82.80h-7.3M74.7 73.01h4.3M659.8 73.01h-4.3M74.7 63.22h4.3M659.8 63.22h-4.3M74.7 53.44h4.3M659.8 53.44h-4.3M74.7 43.65h4.3M659.8 43.65h-4.3M74.7 33.86h7.3M659.8 33.86h-7.3M74.7 24.07h4.3M659.8 24.07h-4.3M74.7 14.28h4.3M659.8 14.28h-4.3M74.7 4.50h4.3M659.8 4.50h-4.3" stroke-width="1.0"/>
</g>
<g font-family="Liberation Serif, serif" font-size="25.4" fill="#000" letter-spacing="0.55">
 <text x="86.70" y="386.6" text-anchor="middle">0.0</text>
 <text x="199.00" y="386.6" text-anchor="middle">0.1</text>
 <text x="311.30" y="386.6" text-anchor="middle">0.2</text>
 <text x="423.60" y="386.6" text-anchor="middle">0.3</text>
 <text x="535.90" y="386.6" text-anchor="middle">0.4</text>
 <text x="648.20" y="386.6" text-anchor="middle">0.5</text>
 <text x="69.9" y="335.00" text-anchor="end">0.9</text>
 <text x="69.9" y="286.06" text-anchor="end">1.0</text>
 <text x="69.9" y="237.12" text-anchor="end">1.1</text>
 <text x="69.9" y="188.18" text-anchor="end">1.2</text>
 <text x="69.9" y="139.24" text-anchor="end">1.3</text>
 <text x="69.9" y="90.30" text-anchor="end">1.4</text>
 <text x="69.9" y="41.36" text-anchor="end">1.5</text>
</g>
<g transform="translate(367.1,424) scale(1.12,1)"><text x="0" y="0" font-family="Liberation Serif, serif" font-size="25.5" text-anchor="middle" fill="#000">ϵ</text></g>
<g transform="translate(20,216) rotate(-90)" font-family="Liberation Serif, serif" fill="#000"><text x="0.8" y="0" font-size="27" font-style="italic">ϕ</text><text x="15.6" y="3.7" font-size="17.2">BP</text><text x="36.3" y="0" font-size="25" letter-spacing="1.3">(<tspan font-size="25">ϵ</tspan>)</text></g>
<rect x="176.3" y="31.9" width="245.5" height="151.35" fill="#ffffff" stroke="#2a2a2a" stroke-width="1.3"/>
<path d="M239.80 183.25v-4.2M298.60 183.25v-4.2M357.40 183.25v-4.2M416.20 183.25v-4.2M176.3 39.40h4.2M176.3 68.60h4.2M176.3 97.80h4.2M176.3 127.00h4.2M176.3 156.20h4.2" stroke="#2a2a2a" stroke-width="1.0" fill="none"/>
<g font-family="Liberation Serif, serif" font-size="22.5" fill="#000">
<text x="239.80" y="205.9" text-anchor="middle">0.05</text>
<text x="298.60" y="205.9" text-anchor="middle">0.1</text>
<text x="357.40" y="205.9" text-anchor="middle">0.15</text>
<text x="416.20" y="205.9" text-anchor="middle">0.2</text>
<text x="167.6" y="47.20" text-anchor="end">10<tspan font-size="16.6" dy="-10.3">−1</tspan></text>
<text x="167.6" y="76.40" text-anchor="end">10<tspan font-size="16.6" dy="-10.3">−2</tspan></text>
<text x="167.6" y="105.60" text-anchor="end">10<tspan font-size="16.6" dy="-10.3">−3</tspan></text>
<text x="167.6" y="134.80" text-anchor="end">10<tspan font-size="16.6" dy="-10.3">−4</tspan></text>
<text x="167.6" y="164.00" text-anchor="end">10<tspan font-size="16.6" dy="-10.3">−5</tspan></text>
</g>
<text x="298.6" y="239.6" font-family="Liberation Serif, serif" font-style="italic" font-size="22.5" text-anchor="middle" fill="#000">δ</text>
<g transform="translate(114.5,132.5) rotate(-90)" font-family="Liberation Serif, serif" fill="#000"><text x="0" y="0" font-size="25" font-style="italic">τ</text><text x="10.3" y="1.2" font-size="16.4">BP</text><text x="32.3" y="-10" font-size="16.4">−1</text></g>
<clipPath id="ic"><rect x="176.3" y="31.9" width="251.5" height="151.35"/></clipPath>
<g clip-path="url(#ic)">
<circle cx="182" cy="181" r="5.2" fill="#ff0000"/>
<circle cx="183" cy="163.5" r="5.2" fill="#ff1000"/>
<circle cx="184.5" cy="146.5" r="5.2" fill="#ff1a00"/>
<circle cx="188.5" cy="129.1" r="5.2" fill="#ff3200"/>
<circle cx="195.5" cy="112.2" r="5.2" fill="#ff6400"/>
<circle cx="210.5" cy="94" r="5.2" fill="#ffbe00"/>
<circle cx="240" cy="77.5" r="5.2" fill="#82ff00"/>
<circle cx="269.5" cy="68" r="5.2" fill="#00ff46"/>
<circle cx="298.5" cy="61.5" r="5.2" fill="#00f0ff"/>
<circle cx="328.2" cy="56.5" r="5.2" fill="#0046ff"/>
<circle cx="357.6" cy="52" r="5.2" fill="#7800ff"/>
<circle cx="387" cy="48.4" r="5.2" fill="#ff00c8"/>
<circle cx="416.2" cy="45.3" r="5.2" fill="#ff0000"/>
<path d="M412.50 45.67L411.94 45.73L411.38 45.78L410.83 45.84L410.27 45.90L409.71 45.95L409.15 46.01L408.60 46.07L408.04 46.13L407.48 46.18L406.92 46.24L406.37 46.30L405.81 46.36L405.25 46.41L404.69 46.47L404.14 46.53L403.58 46.59L403.02 46.65L402.46 46.71L401.90 46.77L401.35 46.83L400.79 46.88L400.23 46.94L399.67 47.00L399.12 47.06L398.56 47.12L398.00 47.18L397.44 47.24L396.89 47.30L396.33 47.36L395.77 47.43L395.21 47.49L394.66 47.55L394.10 47.61L393.54 47.67L392.98 47.73L392.42 47.79L391.87 47.85L391.31 47.92L390.75 47.98L390.19 48.04L389.64 48.10L389.08 48.17L388.52 48.23L387.96 48.29L387.41 48.35L386.85 48.42L386.29 48.48L385.73 48.54L385.18 48.61L384.62 48.67L384.06 48.74L383.50 48.80L382.94 48.86L382.39 48.93L381.83 48.99L381.27 49.06L380.71 49.12L380.16 49.19L379.60 49.25L379.04 49.32L378.48 49.38L377.93 49.45L377.37 49.51L376.81 49.58L376.25 49.65L375.70 49.71L375.14 49.78L374.58 49.84L374.02 49.91L373.46 49.98L372.91 50.05L372.35 50.11L371.79 50.18L371.23 50.25L370.68 50.32L370.12 50.39L369.56 50.45L369.00 50.52L368.45 50.59L367.89 50.66L367.33 50.73L366.77 50.80L366.22 50.87L365.66 50.94L365.10 51.01L364.54 51.08L363.98 51.16L363.43 51.23L362.87 51.30L362.31 51.37L361.75 51.45L361.20 51.52L360.64 51.59L360.08 51.67L359.52 51.74L358.97 51.82L358.41 51.89L357.85 51.97L357.29 52.04L356.74 52.12L356.18 52.20L355.62 52.27L355.06 52.35L354.51 52.43L353.95 52.51L353.39 52.59L352.83 52.67L352.27 52.75L351.72 52.83L351.16 52.91L350.60 52.99L350.04 53.07L349.49 53.16L348.93 53.24L348.37 53.32L347.81 53.41L347.26 53.49L346.70 53.57L346.14 53.66L345.58 53.74L345.03 53.83L344.47 53.92L343.91 54.00L343.35 54.09L342.79 54.18L342.24 54.26L341.68 54.35L341.12 54.44L340.56 54.53L340.01 54.61L339.45 54.70L338.89 54.79L338.33 54.88L337.78 54.97L337.22 55.06L336.66 55.15L336.10 55.23L335.55 55.32L334.99 55.41L334.43 55.50L333.87 55.59L333.31 55.68L332.76 55.77L332.20 55.86L331.64 55.95L331.08 56.04L330.53 56.13L329.97 56.22L329.41 56.31L328.85 56.40L328.30 56.48L327.74 56.57L327.18 56.66L326.62 56.75L326.07 56.84L325.51 56.93L324.95 57.02L324.39 57.11L323.83 57.19L323.28 57.28L322.72 57.37L322.16 57.46L321.60 57.55L321.05 57.64L320.49 57.73L319.93 57.82L319.37 57.91L318.82 58.00L318.26 58.09L317.70 58.18L317.14 58.27L316.59 58.36L316.03 58.45L315.47 58.54L314.91 58.63L314.35 58.72L313.80 58.81L313.24 58.91L312.68 59.00L312.12 59.09L311.57 59.18L311.01 59.28L310.45 59.37L309.89 59.46L309.34 59.56L308.78 59.65L308.22 59.75L307.66 59.84L307.11 59.94L306.55 60.04L305.99 60.13L305.43 60.23L304.87 60.33L304.32 60.43L303.76 60.53L303.20 60.63L302.64 60.73L302.09 60.83L301.53 60.93L300.97 61.03L300.41 61.14L299.86 61.24L299.30 61.35L298.74 61.45L298.18 61.56L297.63 61.67L297.07 61.78L296.51 61.89L295.95 61.99L295.39 62.11L294.84 62.22L294.28 62.33L293.72 62.44L293.16 62.55L292.61 62.66L292.05 62.78L291.49 62.89L290.93 63.01L290.38 63.12L289.82 63.24L289.26 63.36L288.70 63.48L288.15 63.59L287.59 63.71L287.03 63.83L286.47 63.95L285.91 64.08L285.36 64.20L284.80 64.32L284.24 64.44L283.68 64.57L283.13 64.69L282.57 64.82L282.01 64.95L281.45 65.07L280.90 65.20L280.34 65.33L279.78 65.46L279.22 65.59L278.67 65.72L278.11 65.85L277.55 65.99L276.99 66.12L276.43 66.25L275.88 66.39L275.32 66.53L274.76 66.66L274.20 66.80L273.65 66.94L273.09 67.08L272.53 67.22L271.97 67.36L271.42 67.50L270.86 67.65L270.30 67.79L269.74 67.94L269.19 68.08L268.63 68.23L268.07 68.38L267.51 68.53L266.95 68.68L266.40 68.83L265.84 68.98L265.28 69.13L264.72 69.29L264.17 69.44L263.61 69.60L263.05 69.76L262.49 69.92L261.94 70.08L261.38 70.24L260.82 70.40L260.26 70.56L259.71 70.73L259.15 70.89L258.59 71.06L258.03 71.23L257.47 71.40L256.92 71.57L256.36 71.74L255.80 71.92L255.24 72.09L254.69 72.27L254.13 72.45L253.57 72.63L253.01 72.81L252.46 72.99L251.90 73.17L251.34 73.36L250.78 73.55L250.23 73.74L249.67 73.93L249.11 74.12L248.55 74.31L247.99 74.51L247.44 74.70L246.88 74.90L246.32 75.10L245.76 75.30L245.21 75.51L244.65 75.71L244.09 75.92L243.53 76.13L242.98 76.34L242.42 76.55L241.86 76.77L241.30 76.98L240.75 77.20L240.19 77.42L239.63 77.65L239.07 77.87L238.52 78.10L237.96 78.33L237.40 78.56L236.84 78.80L236.28 79.03L235.73 79.27L235.17 79.51L234.61 79.76L234.05 80.00L233.50 80.25L232.94 80.50L232.38 80.75L231.82 81.01L231.27 81.27L230.71 81.53L230.15 81.80L229.59 82.06L229.04 82.34L228.48 82.61L227.92 82.89L227.36 83.17L226.80 83.45L226.25 83.74L225.69 84.03L225.13 84.33L224.57 84.63L224.02 84.93L223.46 85.24L222.90 85.55L222.34 85.87L221.79 86.19L221.23 86.52L220.67 86.85L220.11 87.19L219.56 87.53L219.00 87.87L218.44 88.23L217.88 88.58L217.32 88.95L216.77 89.32L216.21 89.70L215.65 90.08L215.09 90.47L214.54 90.87L213.98 91.27L213.42 91.69L212.86 92.11L212.31 92.54L211.75 92.98L211.19 93.43L210.63 93.89L210.08 94.36L209.52 94.84L208.96 95.33L208.40 95.83L207.84 96.35L207.29 96.88L206.73 97.42L206.17 97.98L205.61 98.54L205.06 99.13L204.50 99.73L203.94 100.34L203.38 100.98L202.83 101.63L202.27 102.29L201.71 102.98L201.15 103.69L200.60 104.41L200.04 105.16L199.48 105.93L198.92 106.73L198.36 107.55L197.81 108.39L197.25 109.27L196.69 110.17L196.13 111.10L195.58 112.07L195.02 113.07L194.46 114.12L193.90 115.21L193.35 116.37L192.79 117.57L192.23 118.84L191.67 120.17L191.12 121.56L190.56 123.03L190.00 124.56L189.96 124.68L189.92 124.79L189.88 124.91L189.84 125.02L189.80 125.13L189.76 125.25L189.72 125.37L189.68 125.48L189.64 125.60L189.60 125.71L189.56 125.83L189.52 125.95L189.48 126.07L189.44 126.19L189.40 126.31L189.36 126.42L189.32 126.54L189.28 126.66L189.24 126.79L189.20 126.91L189.16 127.03L189.12 127.15L189.08 127.27L189.04 127.39L189.00 127.52L188.96 127.64L188.92 127.77L188.88 127.89L188.84 128.01L188.80 128.14L188.76 128.27L188.72 128.39L188.68 128.52L188.64 128.65L188.60 128.77L188.56 128.90L188.52 129.03L188.48 129.16L188.44 129.29L188.40 129.42L188.36 129.55L188.32 129.68L188.28 129.81L188.24 129.94L188.20 130.07L188.16 130.20L188.12 130.33L188.08 130.46L188.04 130.59L188.00 130.72L187.96 130.86L187.92 130.99L187.88 131.12L187.84 131.26L187.80 131.39L187.76 131.53L187.72 131.66L187.68 131.80L187.64 131.93L187.60 132.07L187.56 132.20L187.52 132.34L187.48 132.48L187.44 132.62L187.40 132.75L187.36 132.89L187.32 133.03L187.28 133.17L187.24 133.31L187.20 133.46L187.16 133.60L187.12 133.74L187.08 133.88L187.04 134.03L187.00 134.17L186.96 134.32L186.92 134.47L186.88 134.61L186.84 134.76L186.80 134.91L186.76 135.06L186.72 135.21L186.68 135.36L186.64 135.51L186.60 135.67L186.56 135.82L186.52 135.98L186.48 136.13L186.44 136.29L186.40 136.45L186.36 136.61L186.32 136.77L186.28 136.93L186.24 137.10L186.20 137.26L186.16 137.43L186.12 137.60L186.08 137.77L186.04 137.94L186.01 138.11L185.97 138.28L185.93 138.46L185.89 138.64L185.85 138.82L185.81 139.00L185.77 139.18L185.73 139.37L185.69 139.55L185.65 139.74L185.61 139.93L185.57 140.13L185.53 140.32L185.49 140.52L185.45 140.72L185.41 140.93L185.37 141.13L185.33 141.34L185.29 141.55L185.25 141.77L185.21 141.99L185.17 142.21L185.13 142.43L185.09 142.66L185.05 142.89L185.01 143.13L184.97 143.37L184.93 143.61L184.89 143.86L184.85 144.11L184.81 144.37L184.77 144.63L184.73 144.89L184.69 145.16L184.65 145.44L184.61 145.72L184.57 146.01L184.53 146.30L184.49 146.60L184.45 146.91L184.41 147.22L184.37 147.54L184.33 147.88L184.29 148.22L184.25 148.57L184.21 148.93L184.17 149.30L184.13 149.67L184.09 150.06L184.05 150.45L184.01 150.86L183.97 151.27L183.93 151.69L183.89 152.12L183.85 152.56L183.81 153.00L183.77 153.46L183.73 153.92L183.69 154.39L183.65 154.87L183.61 155.36L183.57 155.86L183.53 156.36L183.49 156.87L183.45 157.39L183.41 157.91L183.37 158.44L183.33 158.98L183.29 159.52L183.25 160.06L183.21 160.61L183.17 161.16L183.13 161.71L183.09 162.27L183.05 162.82L183.01 163.38L182.97 163.93L182.93 164.50L182.89 165.07L182.85 165.65L182.81 166.25L182.77 166.85L182.73 167.46L182.69 168.09L182.65 168.72L182.61 169.37L182.57 170.03L182.53 170.70L182.49 171.38L182.45 172.08L182.41 172.79L182.37 173.51L182.33 174.25L182.29 175.01L182.25 175.78L182.21 176.57" fill="none" stroke="#000" stroke-width="3.3" stroke-dasharray="4.9 4.25"/>
</g>
</svg>
</body></html>
